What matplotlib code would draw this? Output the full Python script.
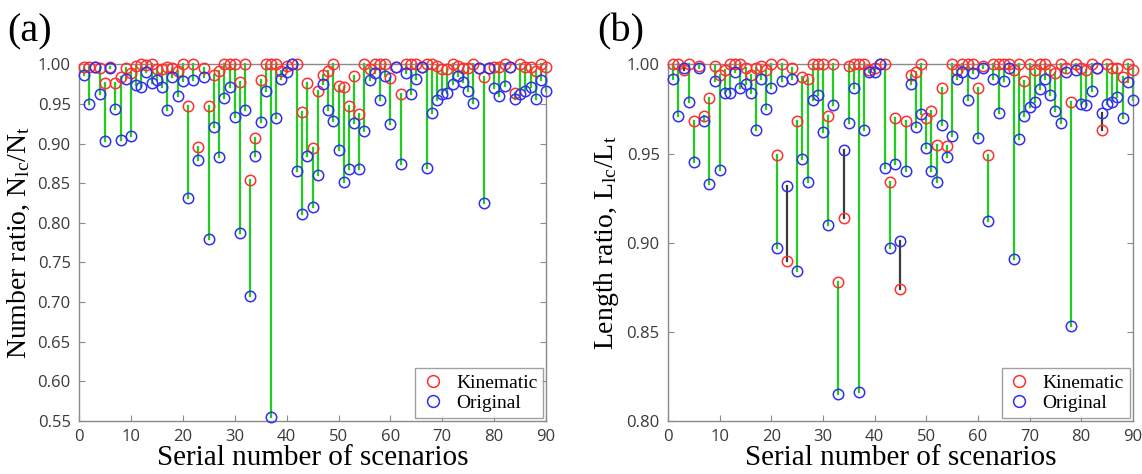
import numpy as np
import matplotlib
matplotlib.use('Agg')
import matplotlib.pyplot as plt
from matplotlib.lines import Line2D

plt.rcParams['mathtext.fontset'] = 'custom'
plt.rcParams['mathtext.rm'] = 'Liberation Serif'
plt.rcParams['mathtext.it'] = 'Liberation Serif:italic'

# scenario ids
scen = np.arange(1, 91)

# number ratio N_lc / N_t
num_kin = [0.997, 0.997, 0.997, 0.995, 0.977, 0.997, 0.976, 0.984, 0.996, 0.989,
           0.998, 1.000, 0.999, 1.000, 0.994, 0.994, 0.997, 0.995, 0.992, 1.000,
           0.947, 1.000, 0.896, 0.996, 0.948, 0.987, 0.992, 1.000, 1.000, 1.000,
           0.978, 1.000, 0.854, 0.907, 0.981, 1.000, 1.000, 1.000, 0.992, 0.998,
           1.000, 1.000, 0.940, 0.976, 0.895, 0.967, 0.987, 0.992, 1.000, 0.973,
           0.972, 0.948, 0.986, 0.938, 1.000, 0.994, 1.000, 1.000, 1.000, 0.983,
           0.997, 0.963, 1.000, 1.000, 1.000, 0.997, 1.000, 1.000, 0.998, 0.994,
           0.994, 1.000, 0.998, 0.995, 0.995, 1.000, 0.995, 0.984, 0.995, 0.997,
           0.997, 1.000, 0.997, 0.964, 1.000, 0.997, 0.997, 0.992, 1.000, 0.997]
num_org = [0.987, 0.950, 0.997, 0.963, 0.903, 0.996, 0.944, 0.905, 0.982, 0.910,
           0.974, 0.971, 0.991, 0.976, 0.981, 0.972, 0.943, 0.984, 0.960, 0.979,
           0.832, 0.981, 0.880, 0.984, 0.780, 0.921, 0.883, 0.958, 0.971, 0.934,
           0.787, 0.943, 0.708, 0.884, 0.927, 0.966, 0.555, 0.932, 0.982, 0.991,
           1.000, 0.865, 0.811, 0.884, 0.820, 0.860, 0.975, 0.943, 0.928, 0.892,
           0.852, 0.868, 0.926, 0.868, 0.916, 0.980, 0.989, 0.955, 0.986, 0.925,
           0.997, 0.874, 0.989, 0.963, 0.982, 0.997, 0.869, 0.939, 0.955, 0.963,
           0.964, 0.975, 0.985, 0.978, 0.967, 0.951, 0.995, 0.825, 0.995, 0.970,
           0.960, 0.973, 0.997, 0.957, 0.963, 0.966, 0.972, 0.956, 0.981, 0.967]

# length ratio L_lc / L_t
len_kin = [1.000, 1.000, 0.997, 1.000, 0.968, 0.999, 0.971, 0.981, 0.999, 0.994,
           0.997, 1.000, 1.000, 1.000, 0.998, 0.994, 0.998, 0.999, 0.997, 1.000,
           0.949, 1.000, 0.890, 0.998, 0.968, 0.993, 0.992, 1.000, 1.000, 1.000,
           0.971, 1.000, 0.878, 0.914, 0.999, 1.000, 1.000, 1.000, 0.997, 0.998,
           1.000, 1.000, 0.934, 0.970, 0.874, 0.968, 0.994, 0.996, 1.000, 0.970,
           0.974, 0.955, 0.987, 0.954, 1.000, 0.997, 1.000, 1.000, 1.000, 0.987,
           0.999, 0.949, 1.000, 1.000, 1.000, 1.000, 0.997, 1.000, 0.991, 1.000,
           0.997, 1.000, 1.000, 0.997, 0.995, 1.000, 0.998, 0.979, 1.000, 0.998,
           0.997, 1.000, 0.998, 0.963, 1.000, 0.998, 0.998, 0.993, 1.000, 0.997]
len_org = [0.992, 0.971, 0.998, 0.979, 0.945, 0.998, 0.968, 0.933, 0.991, 0.941,
           0.984, 0.984, 0.996, 0.987, 0.989, 0.984, 0.963, 0.992, 0.975, 0.987,
           0.897, 0.991, 0.932, 0.992, 0.884, 0.947, 0.934, 0.980, 0.983, 0.962,
           0.910, 0.977, 0.815, 0.952, 0.967, 0.987, 0.816, 0.963, 0.996, 0.996,
           1.000, 0.942, 0.897, 0.944, 0.901, 0.940, 0.989, 0.965, 0.972, 0.953,
           0.940, 0.934, 0.966, 0.948, 0.960, 0.992, 0.996, 0.980, 0.995, 0.959,
           0.998, 0.912, 0.992, 0.973, 0.991, 0.998, 0.891, 0.958, 0.971, 0.976,
           0.979, 0.986, 0.992, 0.983, 0.974, 0.967, 0.996, 0.853, 0.997, 0.978,
           0.977, 0.985, 0.998, 0.973, 0.978, 0.979, 0.982, 0.970, 0.990, 0.980]

serif = 'Liberation Serif'
sans = 'Open Sans'
green = '#1fcc1f'
dark = '#3a3a3a'
edge = '#8a8a8a'


def draw_panel(ax, kin, org, ylo, yticks, ylabel):
    kin = np.array(kin)
    org = np.array(org)
    # connector: green when kinematic is higher, dark otherwise
    for x, k, o in zip(scen, kin, org):
        c = green if k >= o else dark
        ax.plot([x, x], [k, o], color=c, lw=1.6, zorder=2, clip_on=False)
    ax.plot(scen, kin, 'o', mfc='none', mec='#ff3030', ms=7.5, mew=1.1,
            zorder=3, clip_on=False)
    ax.plot(scen, org, 'o', mfc='none', mec='#3030ee', ms=7.5, mew=1.1,
            zorder=4, clip_on=False)
    ax.set_xlim(0, 90)
    ax.set_ylim(ylo, 1.0)
    ax.set_xticks(range(0, 91, 10))
    ax.set_yticks(yticks)
    ax.set_yticklabels(['%.2f' % t for t in yticks])
    for s in ax.spines.values():
        s.set_color(edge)
        s.set_linewidth(1.0)
    ax.tick_params(direction='in', top=True, right=True, length=4,
                   color=edge, labelsize=12, labelcolor='#3a3a3a', pad=6)
    for lab in ax.get_xticklabels() + ax.get_yticklabels():
        lab.set_family(sans)
    ax.set_xlabel('Serial number of scenarios', family=serif, fontsize=21,
                  labelpad=0)
    ax.set_ylabel(ylabel, family=serif, fontsize=20, labelpad=4)
    handles = [Line2D([], [], ls='none', marker='o', mfc='none', mec='#ff3030',
                      ms=8.5, mew=1.1),
               Line2D([], [], ls='none', marker='o', mfc='none', mec='#3030ee',
                      ms=8.5, mew=1.1)]
    leg = ax.legend(handles, ['Kinematic', 'Original'], loc='lower right',
                    prop={'family': serif, 'size': 14}, fancybox=False,
                    borderaxespad=0.15, handletextpad=0.6, labelspacing=0.15,
                    borderpad=0.3, handlelength=1.2)
    leg.get_frame().set_edgecolor(edge)
    leg.get_frame().set_linewidth(1.0)


fig = plt.figure(figsize=(11.42, 4.74), dpi=100)
ax1 = fig.add_axes([0.0692, 0.112, 0.409, 0.752])
ax2 = fig.add_axes([0.585, 0.112, 0.407, 0.752])

draw_panel(ax1, num_kin, num_org, 0.55, np.arange(0.55, 1.001, 0.05),
           r'Number ratio, $\mathrm{N_{lc}/N_t}$')
draw_panel(ax2, len_kin, len_org, 0.80, np.arange(0.80, 1.001, 0.05),
           r'Length ratio, $\mathrm{L_{lc}/L_t}$')

fig.text(0.006, 0.912, '(a)', family=serif, fontsize=29)
fig.text(0.523, 0.912, '(b)', family=serif, fontsize=29)

fig.savefig('out.png', dpi=100)
